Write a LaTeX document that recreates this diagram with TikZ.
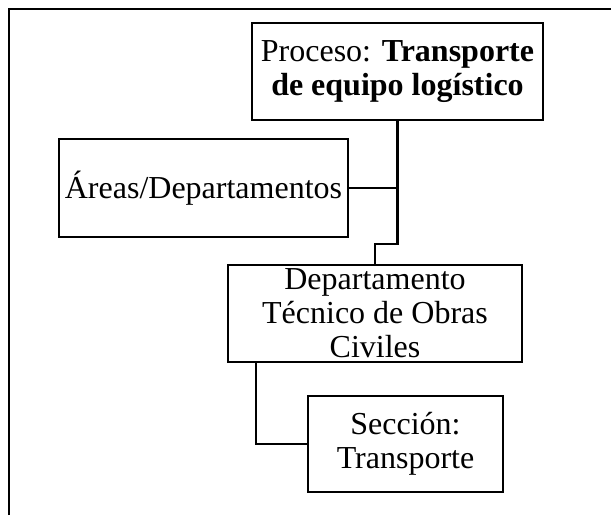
\documentclass[tikz,border=0pt]{standalone}
\usepackage{fontspec}
\setmainfont{Liberation Serif}
\usepackage{tikz}
\usetikzlibrary{positioning}

\begin{document}
\begin{tikzpicture}[x=1pt, y=-1pt,
    box/.style={draw, line width=2.5pt, align=center, inner sep=2pt,
        font=\fontsize{32}{34}\selectfont},
    link/.style={line width=2.5pt}]
    \useasboundingbox (0,0) rectangle (611,515);
    \draw[line width=2pt] (9,515) -- (9,9) -- (611,9);

    \node[box, minimum width=291pt, minimum height=97pt] (proc)  at (397.5,71.5)
        {Proceso: \textbf{Transporte}\\\textbf{de equipo logístico}};
    \node[box, minimum width=289pt, minimum height=98pt] (areas) at (203.5,188)
        {Áreas/Departamentos};
    \node[box, minimum width=294pt, minimum height=97pt] (dept)  at (375,313.5)
        {Departamento\\Técnico de Obras\\Civiles};
    \node[box, minimum width=195pt, minimum height=96pt] (secc)  at (405.5,444)
        {Sección:\\Transporte};
    \coordinate (jog) at (386,244);

    \draw[link] (proc.south) |- (jog) -| (dept.north);
    \draw[link] (areas.east) -- (areas.east -| proc.south);
    \draw[link] ([xshift=29pt]dept.south west) |- (secc.west);
\end{tikzpicture}
\end{document}
